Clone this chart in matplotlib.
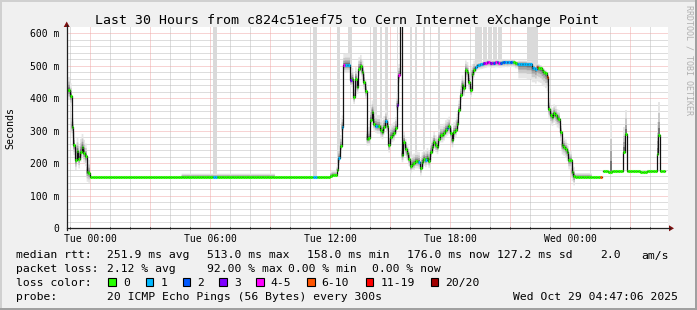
import numpy as np
import matplotlib
matplotlib.use('Agg')
import matplotlib.pyplot as plt
from matplotlib.collections import LineCollection
from matplotlib.patches import Rectangle, Polygon

W, H = 697, 310

# median rtt in ms, one entry per run of 5 minute steps.
# run_start is the step index counted from Tue 00:00 (12 steps = 1 hour)
run_start = [-14, -12, -11, -10, -9, -8, -7, -6, -5, -4, -3, -2, -1,
             0, 74, 76, 134, 136,
             144, 145, 148, 149, 150, 151, 152, 153, 156, 157, 158, 159, 160,
             161, 162, 163, 164, 165, 166, 167, 168, 169, 170, 171, 172, 173,
             174, 175, 176, 177, 178, 179, 180, 181, 182, 183, 184, 185, 186,
             187, 188, 189, 190, 191, 192, 193, 194, 195, 196, 197, 198, 199,
             200, 201, 202, 203, 204, 205, 206, 207, 208, 209, 210, 211, 212,
             213, 214, 215, 216, 217, 218, 219, 220, 221, 222, 223, 224, 225,
             226, 227, 228, 229, 230, 231, 232, 233, 234, 235, 236, 237, 238,
             239, 240, 241, 242, 243, 244, 245, 246, 247, 248, 249, 250, 251,
             252, 253, 254, 255, 256, 262, 265, 267, 268, 269, 270, 271, 272,
             273, 274, 275, 276, 277, 278, 279, 280, 281, 282, 283, 284, 285,
             286, 287, 289, 290, 291, 306, 307,
             308, 311, 313, 320, 321, 322, 326, 330, 334, 340, 341, 342, 344]
run_rtt = [425, 406, 312, 255, 209, 238, 214, 235, 250, 232, 221, 173, 170,
           158, 158, 158, 158, 158,
           160, 163, 178, 216, 252, 312, 501, 502, 455, 458, 404, 460, 435,
           491, 498, 481, 450, 422, 276, 277, 334, 358, 322, 316, 313, 313,
           303, 296, 310, 330, 313, 255, 281, 287, 292, 307, 378, 470, 650,
           225, 266, 245, 230, 214, 191, 197, 200, 206, 206, 204, 184, 204,
           214, 210, 217, 208, 234, 250, 266, 256, 250, 276, 286, 286, 292,
           302, 307, 313, 292, 271, 296, 302, 322, 363, 409, 440, 430, 486,
           481, 450, 425, 475, 486, 495, 501, 503, 504, 505, 507, 508, 510,
           510, 507, 509, 509, 510, 510, 509, 509, 510, 510, 511, 510, 511,
           510, 511, 510, 507, 506, 504, 494, 490, 497, 494, 492, 486, 481,
           476, 466, 368, 348, 343, 353, 348, 338, 335, 296, 255, 251, 245,
           234, 209, 173, 160, 158, 158, np.nan,
           175, 174, 175, 235, 289, 175, 176, 174, 175, 228, 288, 175, 176]
run_loss = [0, 0, 0, 0, 0, 0, 0, 0, 0, 0, 0, 0, 0,
            0, 1, 0, 1, 0,
            0, 0, 0, 1, 0, 1, 4, 1, 3, 0, 0, 0, 0,
            0, 0, 0, 0, 0, 0, 0, 0, 0, 0, 1, 1, 0,
            0, 0, 0, 1, 0, 0, 0, 0, 0, 0, 3, 4, 0,
            0, 0, 0, 0, 0, 0, 0, 0, 0, 0, 1, 0, 0,
            0, 1, 0, 0, 0, 0, 0, 0, 0, 0, 0, 0, 0,
            0, 1, 0, 0, 0, 0, 0, 0, 0, 0, 0, 0, 0,
            0, 0, 0, 0, 0, 1, 1, 1, 1, 1, 3, 4, 3,
            4, 3, 4, 2, 4, 2, 4, 2, 1, 2, 1, 2, 1,
            2, 1, 0, 0, 1, 1, 1, 1, 6, 0, 0, 0, 0,
            0, 6, 0, 0, 0, 0, 0, 0, 0, 0, 0, 0, 0,
            0, 0, 0, 0, 0, 6, 0,
            0, 0, 0, 0, 0, 0, 0, 0, 0, 0, 0, 0, 0]
last_step = 344

# smoke spread around the median (ms above / below), by step range
smoke_from = [-14, 55, 144, 149, 187, 231, 257, 275, 291, 312, 320, 340]
smoke_to = [-1, 110, 148, 186, 230, 256, 274, 290, 300, 312, 321, 341]
smoke_up = [40, 10, 15, 35, 30, 8, 10, 28, 12, 157, 75, 100]
smoke_down = [30, 0, 0, 22, 22, 15, 45, 28, 0, 0, 0, 0]

# steps where single pings went off the top of the graph
spike_steps = [74, 75, 134, 135, 148, 149, 155, 156, 170, 171, 174, 177,
               178, 184, 192, 195, 200, 209, 231, 232, 233, 234, 236, 237,
               239, 240, 242, 243, 245, 246, 262, 263, 264, 265, 266, 267, 268]

hour_ticks = [0, 6, 12, 18, 24]
hour_labels = ['Tue 00:00', 'Tue 06:00', 'Tue 12:00', 'Tue 18:00', 'Wed 00:00']
ms_ticks = [0, 100, 200, 300, 400, 500, 600]
ms_labels = ['0', '100 m', '200 m', '300 m', '400 m', '500 m', '600 m']

title = 'Last 30 Hours from c824c51eef75 to Cern Internet eXchange Point'
rtt_stats = ['251.9 ms avg', '513.0 ms max', '158.0 ms min', '176.0 ms now',
             '127.2 ms sd', '2.0', 'am/s']
loss_stats = ['2.12 % avg', '92.00 % max', '0.00 % min', '0.00 % now']
loss_labels = ['0', '1', '2', '3', '4-5', '6-10', '11-19', '20/20']
loss_colors = ['#26ff00', '#00b8ff', '#0059ff', '#7e00ff', '#ff00ff',
               '#ff5500', '#ff0000', '#a10000']
probe_text = '20 ICMP Echo Pings (56 Bytes) every 300s'
stamp_text = 'Wed Oct 29 04:47:06 2025'


def loss_color(n):
    if n <= 3:
        return loss_colors[int(n)]
    if n <= 5:
        return loss_colors[4]
    if n <= 10:
        return loss_colors[5]
    if n <= 19:
        return loss_colors[6]
    return loss_colors[7]


def fx(x):
    return x / W


def fy(y):
    return 1 - y / H


mono = 'DejaVu Sans Mono'
plt.rcParams['font.family'] = mono

fig = plt.figure(figsize=(W / 100, H / 100), dpi=100, facecolor='#f0f0f0')

# 3d frame round the picture
fig.add_artist(Rectangle((0, fy(2)), 1, 2 / H, transform=fig.transFigure, color='#d0d0d0', lw=0))
fig.add_artist(Rectangle((0, 0), 2 / W, 1, transform=fig.transFigure, color='#d0d0d0', lw=0))
fig.add_artist(Rectangle((0, 0), 1, 2 / H, transform=fig.transFigure, color='#a0a0a0', lw=0))
fig.add_artist(Rectangle((fx(W - 2), 0), 2 / W, 1, transform=fig.transFigure, color='#a0a0a0', lw=0))

ax = fig.add_axes([fx(66.7), fy(228.3), (668 - 66.7) / W, (228.3 - 27.3) / H])
ax.set_facecolor('white')
ax.set_xlim(-1.165, 28.9)
ax.set_ylim(0, 618)

# expand runs to single 5 minute steps
steps = np.arange(run_start[0], last_step + 1)
idx = np.searchsorted(run_start, steps, side='right') - 1
rtt = np.array(run_rtt, dtype=float)[idx]
loss = np.array(run_loss)[idx]
hrs = steps / 12.0
dh = 1 / 12.0

up = np.zeros(len(steps))
down = np.zeros(len(steps))
for s, e, u, d in zip(smoke_from, smoke_to, smoke_up, smoke_down):
    m = (steps >= s) & (steps <= e)
    up[m] = u
    down[m] = d

# grid
for v in range(20, 620, 20):
    if v % 100:
        ax.axhline(v, color='#bcbcbc', lw=0.72, dashes=(1, 1), zorder=0.5)
for v in range(100, 700, 100):
    ax.axhline(v, color='#f0a8a8', lw=0.72, dashes=(1, 1), zorder=0.6)
for hh in range(-1, 29):
    if hh % 3:
        ax.axvline(hh, color='#bcbcbc', lw=0.72, dashes=(1, 1), zorder=0.5)
    else:
        ax.axvline(hh, color='#f0a8a8', lw=0.72, dashes=(1, 1), zorder=0.6)

# pings above the top of the graph
for k in spike_steps:
    i = k - steps[0]
    ax.bar(hrs[i], 700 - rtt[i], bottom=rtt[i], width=dh, align='edge',
           color='#dadada', lw=0, zorder=1)

# smoke
h_ext = np.append(hrs, hrs[-1] + dh)
r_ext = np.append(rtt, rtt[-1])
u_ext = np.append(up, up[-1])
d_ext = np.append(down, down[-1])
for frac, col in zip([1.0, 0.65, 0.4, 0.2], ['#e6e6e6', '#cacaca', '#a4a4a4', '#747474']):
    ax.fill_between(h_ext, r_ext - frac * d_ext, r_ext + frac * u_ext, step='post',
                    color=col, lw=0, zorder=2)

# median line
ax.step(h_ext, r_ext, where='post', color='#101010', lw=0.9, zorder=3)
segs = [[(h, r), (h + dh, r)] for h, r in zip(hrs, rtt) if not np.isnan(r)]
cols = [loss_color(n) for n, r in zip(loss, rtt) if not np.isnan(r)]
ax.add_collection(LineCollection(segs, colors=cols, lw=2.2, capstyle='butt', zorder=4))

# axes
for s in ['top', 'right', 'left', 'bottom']:
    ax.spines[s].set_visible(False)
ax.set_xticks(hour_ticks)
ax.set_xticklabels(hour_labels)
ax.set_yticks(ms_ticks)
ax.set_yticklabels(ms_labels)
ax.tick_params(axis='x', length=0, pad=4, labelsize=7)
ax.tick_params(axis='y', length=0, pad=5.3, labelsize=7)
ax.set_xticks(range(-1, 29), minor=True)
ax.tick_params(axis='x', which='minor', length=2, direction='inout', color='#202020', width=0.72)

fig.add_artist(plt.Line2D([fx(66.7), fx(670)], [fy(228.3), fy(228.3)], transform=fig.transFigure,
                          color='#202020', lw=0.9))
fig.add_artist(plt.Line2D([fx(66.7), fx(66.7)], [fy(230), fy(25)], transform=fig.transFigure,
                          color='#202020', lw=0.9))
fig.add_artist(Polygon([(fx(669), fy(225.3)), (fx(669), fy(231.3)), (fx(674), fy(228.3))],
                       transform=fig.transFigure, color='#801010', lw=0))
fig.add_artist(Polygon([(fx(63.7), fy(27)), (fx(69.7), fy(27)), (fx(66.7), fy(21.5))],
                       transform=fig.transFigure, color='#801010', lw=0))

# texts
fig.text(fx(347), fy(24), title, ha='center', va='baseline', fontsize=9.5)
fig.text(fx(10.5), fy(128), 'Seconds', rotation=90, ha='center', va='center', fontsize=7.2)
fig.text(fx(688.5), fy(5), 'RRDTOOL / TOBI OETIKER', rotation=270, ha='center', va='top',
         fontsize=6, color='#b0b0b0')

fs = 8.2
row_y = [258.5, 272, 286, 299.5]
fig.text(fx(16), fy(row_y[0]), 'median rtt:', va='baseline', fontsize=fs)
for x, s in zip([107.3, 207.3, 307.3, 406.7, 496.7, 600, 641.7], rtt_stats):
    fig.text(fx(x), fy(row_y[0]), s, va='baseline', fontsize=fs)
fig.text(fx(16), fy(row_y[1]), 'packet loss:', va='baseline', fontsize=fs)
for x, s in zip([107.3, 206.7, 288, 372.3], loss_stats):
    fig.text(fx(x), fy(row_y[1]), s, va='baseline', fontsize=fs)
fig.text(fx(16), fy(row_y[2]), 'loss color:', va='baseline', fontsize=fs)
for bx, lab, col in zip([108.3, 145.7, 182.7, 219.3, 256, 307, 365.7, 430.7], loss_labels, loss_colors):
    fig.add_artist(Rectangle((fx(bx), fy(286)), 7.6 / W, 7.6 / H, transform=fig.transFigure,
                             facecolor=col, edgecolor='black', lw=0.8))
    fig.text(fx(bx + 14.7), fy(row_y[2]), lab, va='baseline', fontsize=fs)
fig.text(fx(16), fy(row_y[3]), 'probe:', va='baseline', fontsize=fs)
fig.text(fx(107.3), fy(row_y[3]), probe_text, va='baseline', fontsize=fs)
fig.text(fx(512.7), fy(row_y[3]), stamp_text, va='baseline', fontsize=fs)

fig.savefig('out.png', dpi=100, facecolor=fig.get_facecolor())
